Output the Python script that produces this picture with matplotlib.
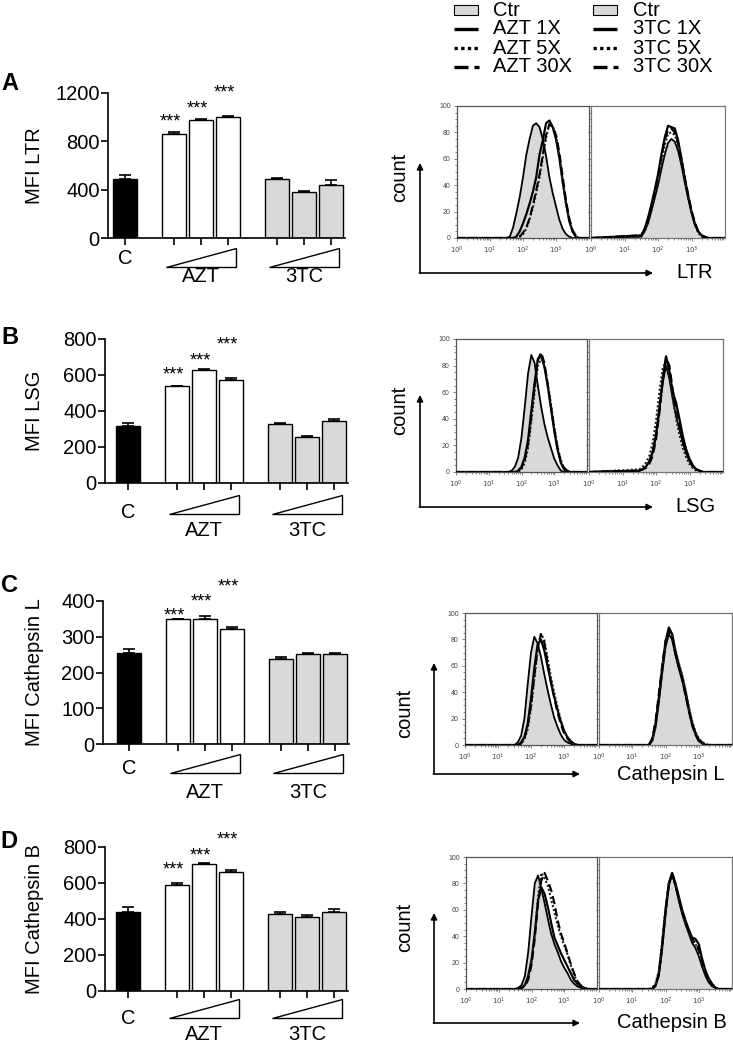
import matplotlib
matplotlib.use('Agg')
import matplotlib.pyplot as plt
from matplotlib.patches import Polygon, Rectangle
from matplotlib.lines import Line2D
from matplotlib.ticker import FixedLocator, LogLocator, NullFormatter, MultipleLocator

plt.rcParams['font.family'] = ['Liberation Sans', 'DejaVu Sans']

W, H = 733, 1043
fig = plt.figure(figsize=(W / 100, H / 100), dpi=100)

# ---------------- bar data (MFI, mean and upper error) ----------------
GROUPS = ['C', 'AZT', '3TC']
BAR_COLORS = ['black', 'white', 'white', 'white', '#d9d9d9', '#d9d9d9', '#d9d9d9']

LTR_MEAN = [490, 860, 980, 1003, 492, 377, 438]
LTR_ERR = [30, 20, 5, 5, 4, 12, 45]
LSG_MEAN = [315, 537, 626, 570, 329, 257, 346]
LSG_ERR = [18, 4, 6, 12, 3, 5, 12]
CATL_MEAN = [254, 349, 349, 321, 239, 251, 251]
CATL_ERR = [11, 2, 9, 5, 3, 4, 3]
CATB_MEAN = [441, 587, 704, 662, 430, 411, 441]
CATB_ERR = [24, 15, 7, 8, 10, 13, 13]

# ---------------- histogram data (count vs log10 intensity) ----------------
LOG_GRID = [1.5, 1.6, 1.7, 1.8, 1.9, 2.0, 2.1, 2.2, 2.3, 2.4, 2.5, 2.6,
            2.7, 2.8, 2.9, 3.0, 3.1, 3.2, 3.3, 3.4, 3.5, 3.6, 3.7]

# LTR, AZT overlay
LTR_AZT_CTR = [0, 1, 8, 19, 31, 46, 63, 75, 85, 87, 84, 75, 62, 46, 34, 24, 14, 7, 3, 1, 0, 0, 0]
LTR_AZT_1X = [0, 0, 0, 1, 5, 11, 18, 26, 35, 46, 63, 74, 87, 89, 84, 75, 61, 43, 27, 13, 5, 1, 0]
LTR_AZT_5X = [0, 0, 0, 0, 1, 3, 7, 14, 23, 34, 46, 61, 76, 87, 85, 78, 63, 44, 26, 14, 5, 1, 0]
LTR_AZT_30X = [0, 0, 0, 0, 1, 4, 8, 15, 25, 36, 48, 63, 78, 86, 84, 78, 65, 47, 29, 15, 6, 2, 0]
# LTR, 3TC overlay
LTR_3TC_CTR = [1, 5, 11, 20, 30, 40, 52, 63, 72, 75, 73, 66, 55, 42, 30, 19, 10, 5, 2, 0, 0, 0, 0]
LTR_3TC_1X = [2, 7, 15, 25, 36, 48, 63, 76, 85, 84, 83, 74, 60, 45, 32, 20, 11, 5, 2, 1, 0, 0, 0]
LTR_3TC_5X = [1, 5, 12, 21, 32, 43, 57, 70, 79, 80, 78, 70, 58, 44, 31, 19, 10, 4, 1, 0, 0, 0, 0]
LTR_3TC_30X = [2, 6, 14, 24, 35, 47, 61, 74, 82, 83, 80, 72, 60, 46, 33, 21, 12, 5, 2, 0, 0, 0, 0]

# LSG
LSG_AZT_CTR = [0, 0, 1, 4, 11, 26, 49, 74, 88, 82, 65, 49, 36, 26, 18, 10, 5, 1, 0, 0, 0, 0, 0]
LSG_AZT_1X = [0, 0, 0, 0, 1, 4, 11, 24, 46, 67, 85, 88, 79, 65, 48, 31, 17, 7, 2, 0, 0, 0, 0]
LSG_AZT_5X = [0, 0, 0, 0, 0, 2, 7, 18, 38, 60, 80, 85, 80, 67, 51, 34, 19, 9, 3, 1, 0, 0, 0]
LSG_AZT_30X = [0, 0, 0, 0, 1, 3, 9, 21, 42, 65, 84, 90, 82, 66, 49, 32, 18, 8, 3, 1, 0, 0, 0]
LSG_3TC_CTR = [1, 2, 4, 8, 15, 27, 46, 67, 80, 70, 55, 42, 32, 22, 14, 8, 4, 2, 1, 0, 0, 0, 0]
LSG_3TC_1X = [1, 2, 4, 8, 15, 28, 48, 70, 87, 76, 60, 52, 40, 27, 17, 10, 5, 2, 1, 0, 0, 0, 0]
LSG_3TC_5X = [2, 4, 7, 12, 22, 38, 60, 78, 84, 72, 55, 40, 28, 18, 11, 6, 3, 1, 0, 0, 0, 0, 0]
LSG_3TC_30X = [1, 2, 3, 6, 12, 24, 44, 68, 86, 80, 62, 48, 37, 25, 16, 9, 4, 2, 1, 0, 0, 0, 0]

# Cathepsin L
CATL_AZT_CTR = [0, 2, 7, 20, 46, 70, 82, 77, 67, 54, 42, 31, 21, 14, 8, 4, 2, 1, 0, 0, 0, 0, 0]
CATL_AZT_1X = [0, 0, 2, 6, 16, 35, 58, 76, 80, 72, 60, 48, 37, 27, 18, 11, 6, 3, 1, 0, 0, 0, 0]
CATL_AZT_5X = [0, 0, 1, 4, 12, 28, 50, 72, 84, 80, 66, 52, 40, 29, 19, 11, 6, 3, 1, 0, 0, 0, 0]
CATL_AZT_30X = [0, 0, 1, 5, 14, 30, 52, 73, 84, 78, 63, 48, 36, 25, 16, 9, 5, 2, 1, 0, 0, 0, 0]
CATL_3TC_CTR = [0, 3, 13, 32, 54, 74, 84, 80, 68, 58, 49, 38, 26, 15, 8, 3, 1, 0, 0, 0, 0, 0, 0]
CATL_3TC_1X = [0, 4, 16, 36, 58, 78, 89, 84, 71, 61, 52, 41, 28, 17, 9, 4, 2, 0, 0, 0, 0, 0, 0]
CATL_3TC_5X = [0, 3, 14, 34, 57, 77, 86, 83, 72, 62, 53, 42, 29, 18, 10, 5, 2, 1, 0, 0, 0, 0, 0]
CATL_3TC_30X = [0, 5, 18, 39, 60, 79, 87, 81, 69, 59, 50, 38, 26, 15, 8, 3, 1, 0, 0, 0, 0, 0, 0]

# Cathepsin B
CATB_AZT_CTR = [0, 1, 3, 10, 28, 55, 80, 86, 76, 65, 53, 42, 34, 28, 21, 16, 12, 7, 4, 2, 1, 0, 0]
CATB_AZT_1X = [0, 0, 1, 3, 10, 22, 42, 67, 77, 72, 62, 50, 39, 33, 27, 22, 17, 12, 7, 4, 2, 1, 0]
CATB_AZT_5X = [0, 0, 1, 3, 8, 20, 42, 70, 88, 84, 78, 68, 58, 48, 40, 33, 26, 18, 11, 5, 2, 1, 0]
CATB_AZT_30X = [0, 0, 1, 2, 7, 18, 38, 65, 82, 88, 82, 75, 65, 52, 42, 35, 27, 19, 12, 6, 3, 1, 0]
CATB_3TC_CTR = [0, 0, 2, 10, 30, 56, 78, 87, 78, 67, 57, 49, 42, 35, 31, 25, 17, 10, 5, 2, 1, 0, 0]
CATB_3TC_1X = [0, 0, 3, 12, 34, 60, 80, 88, 80, 70, 60, 52, 45, 39, 38, 34, 23, 14, 8, 4, 1, 0, 0]
CATB_3TC_5X = [0, 1, 4, 14, 36, 61, 81, 86, 78, 68, 58, 50, 43, 37, 34, 29, 20, 12, 7, 3, 1, 0, 0]
CATB_3TC_30X = [0, 0, 3, 11, 32, 58, 79, 88, 79, 69, 59, 51, 44, 38, 35, 30, 21, 13, 7, 3, 1, 0, 0]

LEGEND_LEFT = ['Ctr', 'AZT 1X', 'AZT 5X', 'AZT 30X']
LEGEND_RIGHT = ['Ctr', '3TC 1X', '3TC 5X', '3TC 30X']

ROWS = [
    dict(letter='A', ylabel='MFI LTR', mean=LTR_MEAN, err=LTR_ERR, yticks=[0, 400, 800, 1200],
         hist=[[LTR_AZT_CTR, LTR_AZT_1X, LTR_AZT_5X, LTR_AZT_30X],
               [LTR_3TC_CTR, LTR_3TC_1X, LTR_3TC_5X, LTR_3TC_30X]], xlab='LTR'),
    dict(letter='B', ylabel='MFI LSG', mean=LSG_MEAN, err=LSG_ERR, yticks=[0, 200, 400, 600, 800],
         hist=[[LSG_AZT_CTR, LSG_AZT_1X, LSG_AZT_5X, LSG_AZT_30X],
               [LSG_3TC_CTR, LSG_3TC_1X, LSG_3TC_5X, LSG_3TC_30X]], xlab='LSG'),
    dict(letter='C', ylabel='MFI Cathepsin L', mean=CATL_MEAN, err=CATL_ERR, yticks=[0, 100, 200, 300, 400],
         hist=[[CATL_AZT_CTR, CATL_AZT_1X, CATL_AZT_5X, CATL_AZT_30X],
               [CATL_3TC_CTR, CATL_3TC_1X, CATL_3TC_5X, CATL_3TC_30X]], xlab='Cathepsin L'),
    dict(letter='D', ylabel='MFI Cathepsin B', mean=CATB_MEAN, err=CATB_ERR, yticks=[0, 200, 400, 600, 800],
         hist=[[CATB_AZT_CTR, CATB_AZT_1X, CATB_AZT_5X, CATB_AZT_30X],
               [CATB_3TC_CTR, CATB_3TC_1X, CATB_3TC_5X, CATB_3TC_30X]], xlab='Cathepsin B'),
]

# ---------------- layout (pixels) ----------------
# bar axes: spine x, top, bottom, left edge of C bar
BAR_BOX = [(108, 93, 238, 113), (105, 339, 483, 116), (103, 601, 744, 117), (105, 847, 991, 116)]
STAR_FRAC = [(0.772, 0.862, 0.966), (0.722, 0.819, 0.924), (0.867, 0.965, 1.07), (0.8125, 0.903, 1.014)]
C_OFF = [21, 30, 24, 27]
TRI_OFF = [(10, 29), (12, 31), (10, 29), (8, 27)]
LAB_OFF = [38, 48, 48, 43]
HIST_BOX = [[(457, 106, 589, 238), (591, 106, 725, 238)],
            [(456, 339, 587, 472), (589, 339, 723, 472)],
            [(465, 613, 597, 745), (599, 613, 732, 745)],
            [(466, 857, 597, 989), (599, 857, 732, 989)]]
ARROW = [(420, 163, 273, 653), (420, 395, 507, 653), (434, 663, 774, 580), (434, 913, 1023, 580)]
COUNT_POS = [(400, 177), (400, 410), (405, 713), (405, 927)]
XLAB_POS = [(676, 273), (675, 507), (617, 774), (617, 1023)]
LETTER_POS = [(1, 84), (1, 337), (1, 585), (0, 842)]

UNIT = 27.0          # pixels per bar slot
BAR_W = 24 / UNIT
GAP = 49 / UNIT
FS = 14.5


def add_px_axes(l, t, r, b):
    return fig.add_axes([l / W, 1 - b / H, (r - l) / W, (b - t) / H])


def bar_positions():
    pos = [0.0]
    start = GAP
    for g in range(2):
        pos += [start + i for i in range(3)]
        start = pos[-1] + GAP
    return pos


POS = bar_positions()


def draw_bars(i, row):
    x0, top, bot, cleft = BAR_BOX[i]
    xl = -BAR_W / 2 - (cleft - x0) / UNIT
    xr = POS[-1] + BAR_W / 2 + 2 / UNIT
    ax = add_px_axes(x0, top, x0 + (xr - xl) * UNIT, bot)
    hpx = bot - top
    ax.bar(POS, row['mean'], width=BAR_W, color=BAR_COLORS, edgecolor='black', linewidth=1.0, zorder=2)
    ax.errorbar(POS, row['mean'], yerr=[[0] * len(POS), row['err']], fmt='none', ecolor='black',
                elinewidth=1.2, capsize=4.5, capthick=1.2, zorder=3)
    ax.set_xlim(xl, xr)
    yt = row['yticks']
    ax.set_ylim(yt[0], yt[-1])
    ax.set_yticks(yt)
    ax.set_xticks(POS)
    ax.set_xticklabels([])
    for s in ['top', 'right']:
        ax.spines[s].set_visible(False)
    for s in ['left', 'bottom']:
        ax.spines[s].set_linewidth(1.2)
    ax.tick_params(axis='both', direction='out', length=5, width=1.2, pad=1, labelsize=FS)
    ax.patch.set_alpha(0)

    # significance stars
    for k in range(3):
        ax.text(POS[1 + k] - 0.12, STAR_FRAC[i][k], '***', transform=ax.get_xaxis_transform(),
                ha='center', va='baseline', fontsize=13, clip_on=False)

    # group labels and dose triangles
    tr = ax.get_xaxis_transform()
    ax.text(POS[0], -C_OFF[i] / hpx, GROUPS[0], transform=tr, ha='center', va='center', fontsize=FS)
    t1, t2 = TRI_OFF[i]
    for g in range(2):
        p = POS[1 + 3 * g: 4 + 3 * g]
        a, b = p[0] - 0.3, p[-1] + 0.3
        tri = Polygon([(a, -t2 / hpx), (b, -t2 / hpx), (b, -t1 / hpx)], closed=True, transform=tr,
                      facecolor='white', edgecolor='black', linewidth=1.0, clip_on=False)
        ax.add_patch(tri)
        ax.text(sum(p) / 3, -LAB_OFF[i] / hpx, GROUPS[1 + g], transform=tr, ha='center', va='center',
                fontsize=FS)
    return ax


def draw_hist(box, curves, show_ylabels, edge):
    ax = add_px_axes(*box)
    xs = [1.0] + [10 ** g for g in LOG_GRID] + [1e4]

    def pad(v):
        return [0] + list(v) + [0]

    ctr, c1, c5, c30 = curves
    ax.fill_between(xs, pad(ctr), color='#d9d9d9', lw=0, zorder=1)
    ax.plot(xs, pad(ctr), color='black', lw=1.3, zorder=2)
    ax.plot(xs, pad(c1), color='black', lw=1.6, zorder=3)
    ax.plot(xs, pad(c5), color='#222222', lw=1.5, ls=(0, (1, 1)), zorder=3)
    ax.plot(xs, pad(c30), color='black', lw=1.5, ls=(0, (4, 2)), zorder=3)
    ax.set_xscale('log')
    ax.set_xlim(1, 1e4)
    ax.set_ylim(0, 100)
    ax.xaxis.set_major_locator(FixedLocator([1, 10, 100, 1000]))
    ax.set_xticklabels(['$10^0$', '$10^1$', '$10^2$', '$10^3$'])
    ax.xaxis.set_minor_locator(LogLocator(base=10, subs=range(2, 10), numticks=20))
    ax.xaxis.set_minor_formatter(NullFormatter())
    ax.yaxis.set_major_locator(MultipleLocator(20))
    ax.yaxis.set_minor_locator(MultipleLocator(5))
    if not show_ylabels:
        ax.set_yticklabels([])
    ax.tick_params(which='both', direction='out', width=0.5, color='#555555', labelsize=5,
                   labelcolor='#444444', pad=2)
    ax.tick_params(which='major', length=2.5)
    ax.tick_params(which='minor', length=1.2)
    for s in ax.spines.values():
        s.set_color(edge)
        s.set_linewidth(0.9)
    return ax


for i, row in enumerate(ROWS):
    draw_bars(i, row)
    draw_hist(HIST_BOX[i][0], row['hist'][0], True, '#555555')
    draw_hist(HIST_BOX[i][1], row['hist'][1], False, '#777777')

# overlay in pixel coordinates for labels, arrows and legend
ov = fig.add_axes([0, 0, 1, 1])
ov.set_xlim(0, W)
ov.set_ylim(H, 0)
ov.axis('off')
ov.patch.set_alpha(0)

for i, row in enumerate(ROWS):
    x0, top, bot, _ = BAR_BOX[i]
    ov.text(LETTER_POS[i][0], LETTER_POS[i][1], row['letter'], fontsize=17, fontweight='bold',
            ha='left', va='center')
    ov.text(35, (top + bot) / 2, row['ylabel'], rotation=90, fontsize=FS, ha='center', va='center')
    ax_x, ay_top, ay_bot, ax_right = ARROW[i]
    arr = dict(arrowstyle='-|>', color='black', lw=1.2, mutation_scale=9, shrinkA=0, shrinkB=0)
    ov.annotate('', xy=(ax_x, ay_top), xytext=(ax_x, ay_bot), arrowprops=arr)
    ov.annotate('', xy=(ax_right, ay_bot), xytext=(ax_x - 0.6, ay_bot), arrowprops=arr)
    ov.text(COUNT_POS[i][0], COUNT_POS[i][1], 'count', rotation=90, fontsize=FS, ha='center', va='center')
    ov.text(XLAB_POS[i][0], XLAB_POS[i][1], row['xlab'], fontsize=FS, ha='left', va='center')

# legend
LEG_Y = [10, 29, 48, 67]
for names, sx, tx in [(LEGEND_LEFT, 454, 493), (LEGEND_RIGHT, 593, 633)]:
    for k, name in enumerate(names):
        y = LEG_Y[k]
        if k == 0:
            ov.add_patch(Rectangle((sx, y - 5), 24, 10, facecolor='#d9d9d9', edgecolor='black', lw=0.8))
        elif k == 1:
            ov.add_line(Line2D([sx, sx + 24], [y, y], color='black', lw=2.4, solid_capstyle='butt'))
        elif k == 2:
            ov.add_line(Line2D([sx, sx + 24], [y, y], color='black', lw=2.4, ls=(0, (1, 1))))
        else:
            ov.add_line(Line2D([sx, sx + 14], [y, y], color='black', lw=2.4, solid_capstyle='butt'))
            ov.add_line(Line2D([sx + 20, sx + 25], [y, y], color='black', lw=2.4, solid_capstyle='butt'))
        ov.text(tx, y, name, fontsize=FS, ha='left', va='center')

fig.savefig('out.png', dpi=100)
